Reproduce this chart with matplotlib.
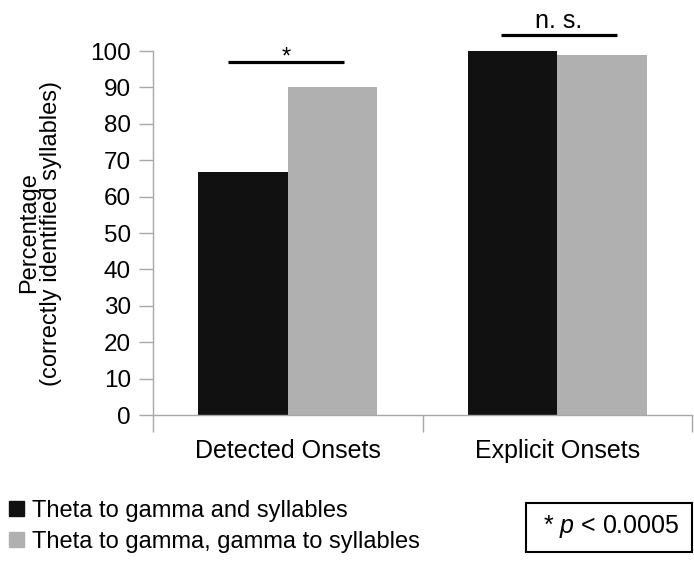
import numpy as np
import matplotlib.pyplot as plt
from matplotlib.patches import Patch, Rectangle

plt.rcParams['font.family'] = ['Liberation Sans', 'DejaVu Sans']
plt.rcParams['mathtext.fontset'] = 'custom'
plt.rcParams['mathtext.it'] = 'Liberation Sans:italic'
plt.rcParams['mathtext.rm'] = 'Liberation Sans'

# Data
categories = ['Detected Onsets', 'Explicit Onsets']
series_names = ['Theta to gamma and syllables', 'Theta to gamma, gamma to syllables']
theta_gamma_syll = [66.7, 100.0]
theta_gamma_gamma_syll = [90.1, 99.0]
yticks = [0, 10, 20, 30, 40, 50, 60, 70, 80, 90, 100]

# significance markers
sig_labels = ['*', 'n. s.']
sig_heights = [97.0, 104.5]
sig_spans = [(-0.22, 0.21), (0.79, 1.22)]

black = '#111111'
grey = '#b0b0b0'
axis_grey = '#a8a8a8'

fig = plt.figure(figsize=(6.94, 5.65), dpi=100)
ax = fig.add_axes([153 / 694, 1 - 415 / 565, 539 / 694, 364 / 565])

x = np.arange(len(categories))
w = 0.333
ax.bar(x - w / 2, theta_gamma_syll, width=w, color=black, label=series_names[0])
ax.bar(x + w / 2, theta_gamma_gamma_syll, width=w, color=grey, label=series_names[1])

ax.set_xlim(-0.5, len(categories) - 0.5)
ax.set_ylim(0, 100)
ax.set_yticks(yticks)
ax.tick_params(axis='y', direction='out', length=10, width=1, color=axis_grey,
               labelsize=17.5, pad=6)

# category boundaries as major ticks, labels on minor ticks
ax.set_xticks(np.arange(len(categories) + 1) - 0.5)
ax.set_xticklabels([])
ax.set_xticks(x, minor=True)
ax.set_xticklabels(categories, minor=True)
ax.tick_params(axis='x', which='major', direction='out', length=12, width=1, color=axis_grey)
ax.tick_params(axis='x', which='minor', length=0, labelsize=18, pad=17)

for side in ['top', 'right']:
    ax.spines[side].set_visible(False)
for side in ['left', 'bottom']:
    ax.spines[side].set_color(axis_grey)
    ax.spines[side].set_linewidth(1)

for lab, h, (x0, x1) in zip(sig_labels, sig_heights, sig_spans):
    ax.plot([x0, x1], [h, h], color='black', lw=2.3, clip_on=False, solid_capstyle='butt')
    if lab == '*':
        ax.text((x0 + x1) / 2, h - 0.4, lab, ha='center', va='baseline', fontsize=17)
    else:
        ax.text((x0 + x1) / 2, h + 1.7, lab, ha='center', va='baseline', fontsize=18)

fig.text(40 / 694, 1 - 233 / 565, 'Percentage\n(correctly identified syllables)',
         rotation=90, ha='center', va='center', multialignment='center', fontsize=17,
         linespacing=0.95)

handles = [Patch(color=black), Patch(color=grey)]
fig.legend(handles, series_names, loc='upper left', bbox_to_anchor=(9 / 694, 1 - 500 / 565),
           frameon=False, fontsize=17, handlelength=0.62, handleheight=0.6,
           handletextpad=0.35, labelspacing=0.38, borderpad=0, borderaxespad=0)

fig.patches.append(Rectangle((526 / 694, 1 - 552 / 565), 166 / 694, 49 / 565,
                             transform=fig.transFigure, fill=False, edgecolor='black', lw=1.5))
fig.text(611 / 694, 1 - 527 / 565, '* $p$ < 0.0005', ha='center', va='center', fontsize=18)

fig.savefig('out.png', dpi=100)
